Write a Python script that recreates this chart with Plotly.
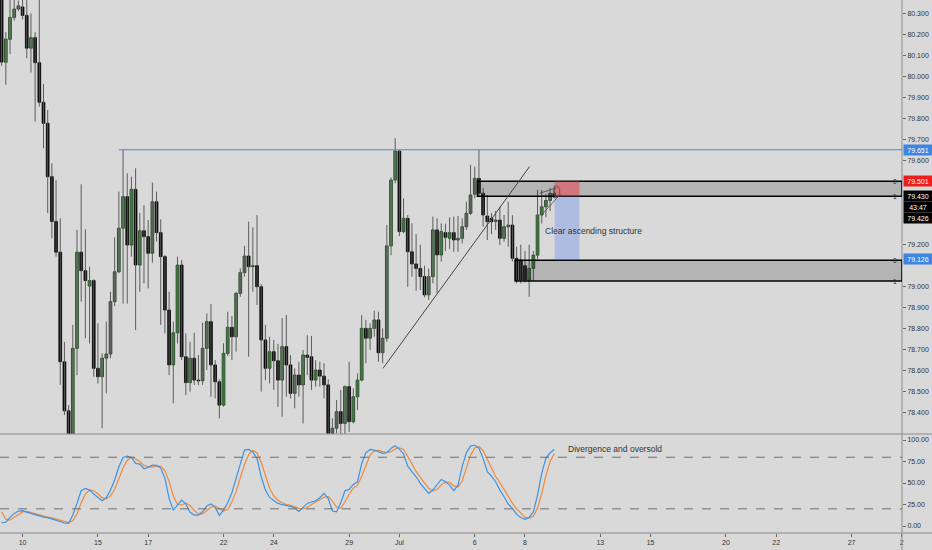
import plotly.graph_objects as go

# ---------------- data (4H candles, index 0 = 10 Jun 00:00) ----------------
idx = list(range(-5, 128))

opens = [80.42, 80.067, 80.176, 80.28, 80.32, 80.33, 80.29, 80.134, 80.184, 80.065,
         79.877, 79.777, 79.523, 79.31, 79.164, 78.643, 78.41, 78.27, 78.707, 79.164,
         79.076, 79.003, 79.029, 78.612, 78.572, 78.66, 78.68, 78.929, 79.071, 79.278,
         79.428, 79.198, 79.463, 79.103, 79.266, 79.238, 79.159, 79.404, 79.257, 79.143,
         78.889, 78.628, 78.781, 79.103, 78.667, 78.544, 78.66, 78.556, 78.553, 78.707,
         78.834, 78.628, 78.548, 78.437, 78.683, 78.807, 78.762, 78.968, 79.067, 79.146,
         79.095, 79.10, 79.0, 78.747, 78.612, 78.691, 78.648, 78.556, 78.715, 78.628,
         78.493, 78.58, 78.533, 78.675, 78.667, 78.556, 78.604, 78.575, 78.533, 78.303,
         78.327, 78.406, 78.35, 78.525, 78.358, 78.477, 78.556, 78.802, 78.755, 78.802,
         78.842, 78.686, 78.755, 79.194, 79.507, 79.645, 79.262, 79.325, 79.166, 79.108,
         79.087, 79.048, 78.961, 79.048, 79.27, 79.151, 79.257, 79.23, 79.257, 79.222,
         79.23, 79.285, 79.349, 79.44, 79.515, 79.444, 79.336, 79.325, 79.31, 79.317,
         79.23, 79.285, 79.293, 79.135, 79.127, 79.10, 79.032, 79.087, 79.15, 79.341,
         79.38, 79.41, 79.444]
highs = [80.46, 80.21, 80.40, 80.40, 80.36, 80.37, 80.40, 80.30, 80.21, 80.40,
         79.964, 79.84, 79.587, 79.507, 79.325, 78.738, 78.437, 78.818, 79.27, 79.487,
         79.273, 79.095, 79.035, 78.826, 78.683, 78.834, 78.976, 79.235, 79.452, 79.651,
         79.539, 79.523, 79.563, 79.35, 79.388, 79.317, 79.495, 79.452, 79.32, 79.151,
         78.976, 78.834, 79.143, 79.127, 78.778, 78.738, 78.781, 78.675, 78.829, 78.873,
         78.918, 78.651, 78.56, 78.731, 78.881, 78.861, 78.976, 79.087, 79.194, 79.309,
         79.282, 79.34, 79.013, 78.818, 78.762, 78.747, 78.728, 78.85, 78.865, 78.675,
         78.612, 78.643, 78.699, 78.77, 78.766, 78.651, 78.643, 78.636, 78.56, 78.374,
         78.461, 78.509, 78.53, 78.643, 78.517, 78.588, 78.865, 78.842, 78.826, 78.886,
         78.881, 78.802, 79.293, 79.52, 79.706, 79.65, 79.42, 79.341, 79.301, 79.25,
         79.20, 79.10, 79.087, 79.333, 79.325, 79.301, 79.30, 79.33, 79.333, 79.336,
         79.325, 79.404, 79.579, 79.571, 79.651, 79.47, 79.436, 79.35, 79.36, 79.38,
         79.341, 79.404, 79.34, 79.19, 79.20, 79.17, 79.20, 79.17, 79.46, 79.46,
         79.44, 79.47, 79.48]
lows = [80.05, 79.96, 80.106, 80.265, 80.31, 80.27, 80.086, 80.018, 79.785, 79.856,
        79.658, 79.35, 79.23, 79.143, 78.533, 78.39, 78.25, 78.24, 78.58, 78.929,
        78.755, 78.73, 78.572, 78.54, 78.327, 78.493, 78.66, 78.908, 79.064, 78.92,
        78.92, 79.143, 78.794, 78.976, 79.016, 78.992, 79.114, 79.214, 78.818, 78.778,
        78.58, 78.446, 78.73, 78.651, 78.485, 78.501, 78.533, 78.533, 78.533, 78.604,
        78.477, 78.469, 78.374, 78.43, 78.67, 78.651, 78.691, 78.952, 79.048, 78.667,
        78.976, 78.913, 78.501, 78.556, 78.54, 78.509, 78.429, 78.382, 78.477, 78.469,
        78.422, 78.477, 78.35, 78.58, 78.509, 78.525, 78.525, 78.469, 78.29, 78.28,
        78.303, 78.30, 78.30, 78.31, 78.35, 78.414, 78.55, 78.636, 78.699, 78.762,
        78.643, 78.636, 78.738, 79.15, 79.492, 79.24, 79.254, 79.0, 79.048, 78.98,
        78.984, 78.95, 78.937, 79.016, 78.969, 79.119, 79.17, 79.18, 79.166, 79.166,
        79.206, 79.27, 79.341, 79.42, 79.43, 79.285, 79.222, 79.25, 79.27, 79.198,
        79.214, 79.19, 79.12, 79.016, 79.016, 79.02, 78.952, 79.03, 79.13, 79.30,
        79.33, 79.36, 79.42]
closes = [80.068, 80.177, 80.28, 80.32, 80.335, 80.29, 80.134, 80.184, 80.065, 79.877,
          79.777, 79.523, 79.31, 79.164, 78.643, 78.41, 78.27, 78.707, 79.164, 79.076,
          79.029, 79.029, 78.612, 78.572, 78.66, 78.68, 78.929, 79.071, 79.278, 79.428,
          79.198, 79.463, 79.103, 79.266, 79.238, 79.159, 79.404, 79.257, 79.143, 78.889,
          78.628, 78.781, 79.103, 78.667, 78.544, 78.66, 78.556, 78.552, 78.707, 78.834,
          78.628, 78.548, 78.437, 78.683, 78.807, 78.762, 78.968, 79.067, 79.146, 79.095,
          79.10, 79.0, 78.747, 78.612, 78.691, 78.648, 78.556, 78.715, 78.628, 78.493,
          78.58, 78.533, 78.675, 78.664, 78.556, 78.604, 78.575, 78.533, 78.303, 78.327,
          78.406, 78.35, 78.525, 78.358, 78.477, 78.556, 78.802, 78.755, 78.802, 78.842,
          78.686, 78.755, 79.194, 79.507, 79.645, 79.262, 79.325, 79.166, 79.108, 79.087,
          79.048, 78.961, 79.048, 79.27, 79.151, 79.262, 79.235, 79.257, 79.222, 79.23,
          79.285, 79.349, 79.436, 79.515, 79.444, 79.341, 79.309, 79.309, 79.317, 79.23,
          79.285, 79.293, 79.135, 79.032, 79.032, 79.032, 79.087, 79.15, 79.341, 79.38,
          79.41, 79.444, 79.426]

stoch_k = [3.8, 4.6, 10.0, 14.7, 17.4, 17.8, 16.2, 14.7, 13.2, 11.6,
           10.4, 9.7, 8.1, 6.6, 5.0, 3.5, 3.1, 12.8, 26.3, 41.1,
           43.8, 41.8, 37.2, 32.9, 29.4, 32.9, 41.8, 53.5, 69.0, 79.8,
           81.4, 79.8, 72.8, 72.1, 66.6, 68.2, 70.9, 70.5, 67.4, 55.4,
           32.1, 18.6, 24.4, 30.2, 25.6, 15.9, 12.8, 12.8, 16.6, 23.2,
           25.6, 21.7, 12.4, 18.6, 27.1, 38.7, 55.4, 70.9, 88.3, 89.1,
           86.0, 78.7, 57.3, 41.8, 33.3, 29.8, 26.3, 24.8, 24.0, 22.8,
           20.9, 17.0, 21.7, 26.3, 27.9, 29.4, 32.9, 38.0, 32.1, 17.4,
           16.6, 27.1, 41.1, 42.6, 48.4, 51.5, 72.8, 85.2, 89.1, 88.3,
           86.4, 84.5, 85.2, 90.3, 93.4, 89.5, 83.7, 69.7, 63.2, 57.3,
           49.6, 43.8, 38.0, 41.8, 47.6, 54.2, 51.5, 47.6, 41.1, 47.6,
           69.0, 85.2, 93.0, 94.2, 90.3, 78.7, 63.2, 58.1, 51.5, 41.8,
           34.1, 25.6, 20.5, 13.5, 10.0, 7.7, 10.0, 16.6, 36.0, 61.2,
           78.7, 85.2, 89.1]
stoch_d = [16.6, 8, 7, 10, 14, 16.5, 17, 16, 14.5, 13,
           11.5, 10.5, 9.5, 8, 6.5, 5, 4, 6, 14, 27,
           37, 42, 41, 37.5, 33, 31.5, 35, 42.5, 55, 67.5,
           76.5, 80, 78, 75, 70.5, 69, 68.5, 70, 69.5, 64.5,
           52, 35, 25, 24.5, 26.5, 24, 18, 14, 14, 17.5,
           21.8, 23.5, 20, 17.5, 19.5, 28, 40, 55, 71.5, 83,
           88, 85, 74, 59, 44, 35, 30, 27, 25, 24,
           22.5, 20.5, 20, 21.5, 25, 28, 30, 33.5, 34.5, 29,
           22, 20.5, 28, 37, 44, 47.5, 57.5, 70, 82.5, 87.5,
           88, 86.5, 85.5, 86.5, 89.5, 91, 89, 81, 72, 63.5,
           56.5, 50, 43.8, 41, 42.5, 47.9, 51, 51, 46.7, 45.4,
           52.6, 67.3, 82.4, 90.8, 92.5, 87.7, 77.4, 66.7, 57.6, 50.5,
           42.5, 33.8, 26.7, 19.9, 14.7, 10.4, 9.2, 11.4, 20.9, 37.9,
           58.6, 75, 84.3]

date_tick_pos = [0, 18, 30, 48, 60, 78, 90, 108, 120, 138, 150, 168, 180, 198, 210]
date_tick_text = ['10', '15', '17', '22', '24', '29', 'Jul', '6', '8', '13', '15', '20', '22', '27', '2']
# visible price-scale ticks (79.1 - 79.5 are covered by the price labels)
price_ticks = [78.4, 78.5, 78.6, 78.7, 78.8, 78.9, 79.0, 79.2,
               79.6, 79.7, 79.8, 79.9, 80.0, 80.1, 80.2, 80.3]
stoch_ticks = [0, 25, 50, 75, 100]
stoch_levels = [80, 20]

resistance = 79.651
upper_zone = [79.430, 79.501]
lower_zone = [79.027, 79.126]
entry, stop, target = 79.430, 79.501, 79.126
last_price = 79.426
countdown = '43:47'

# ---------------- styling ----------------
BG = '#d9d9d9'
FONT = 'Liberation Sans'
XMIN, XMAX = -5.39, 210.05
SPLIT = 0.1857

fig = go.Figure()

# wicks
wx, wy = [], []
for i, h, l in zip(idx, highs, lows):
    wx += [i, i, None]
    wy += [l, h, None]
fig.add_trace(go.Scatter(x=wx, y=wy, mode='lines', line=dict(color='#5c5c5c', width=1),
                         hoverinfo='skip', xaxis='x', yaxis='y'))

# bodies
base = [min(o, c) for o, c in zip(opens, closes)]
height = [max(abs(c - o), 0.004) for o, c in zip(opens, closes)]
fill = ['#4f944f' if c >= o else '#000000' for o, c in zip(opens, closes)]
edge = ['#1c361c' if c >= o else '#000000' for o, c in zip(opens, closes)]
fig.add_trace(go.Bar(x=idx, y=height, base=base, width=0.66,
                     marker=dict(color=fill, line=dict(color=edge, width=0.8)),
                     hoverinfo='skip', xaxis='x', yaxis='y'))

# stochastic
fig.add_trace(go.Scatter(x=idx, y=stoch_d, mode='lines', line=dict(color='#f08a3a', width=1.2),
                         xaxis='x2', yaxis='y2', hoverinfo='skip'))
fig.add_trace(go.Scatter(x=idx, y=stoch_k, mode='lines', line=dict(color='#3b93e6', width=1.2),
                         xaxis='x2', yaxis='y2', hoverinfo='skip'))

shapes = []
# pane frame lines
shapes.append(dict(type='line', xref='paper', yref='paper', x0=1, x1=1, y0=-0.032, y1=1,
                   line=dict(color='#8c8c8c', width=1)))
shapes.append(dict(type='line', xref='paper', yref='paper', x0=0, x1=1.034, y0=SPLIT, y1=SPLIT,
                   line=dict(color='#8c8c8c', width=1)))
shapes.append(dict(type='line', xref='paper', yref='paper', x0=0, x1=1.034, y0=0, y1=0,
                   line=dict(color='#8c8c8c', width=1)))
# stochastic levels
for lv in stoch_levels:
    shapes.append(dict(type='line', xref='x2', yref='y2', x0=XMIN, x1=XMAX, y0=lv, y1=lv,
                       line=dict(color='#6e6e6e', width=1, dash='dash')))
# resistance line
shapes.append(dict(type='line', xref='x', yref='y', x0=23, x1=XMAX, y0=resistance, y1=resistance,
                   line=dict(color='#4f86d6', width=1)))
# zones
shapes.append(dict(type='rect', xref='x', yref='y', x0=108.65, x1=XMAX, y0=upper_zone[0], y1=upper_zone[1],
                   fillcolor='rgba(0,0,0,0.17)', line=dict(color='#000000', width=1.5)))
shapes.append(dict(type='rect', xref='x', yref='y', x0=117.65, x1=XMAX, y0=lower_zone[0], y1=lower_zone[1],
                   fillcolor='rgba(0,0,0,0.17)', line=dict(color='#000000', width=1.5)))
# short position tool
shapes.append(dict(type='rect', xref='x', yref='y', x0=127.1, x1=133.0, y0=entry, y1=stop,
                   fillcolor='rgba(242,54,69,0.5)', line=dict(width=0)))
shapes.append(dict(type='rect', xref='x', yref='y', x0=127.1, x1=133.0, y0=target, y1=entry,
                   fillcolor='rgba(41,98,255,0.24)', line=dict(width=0)))
shapes.append(dict(type='line', xref='x', yref='y', x0=127.1, x1=133.0, y0=entry, y1=entry,
                   line=dict(color='#222222', width=1)))
# trend line
shapes.append(dict(type='line', xref='x', yref='y', x0=86.1, x1=121.1, y0=78.612, y1=79.571,
                   line=dict(color='#444444', width=1)))
# small ascending channel
shapes.append(dict(type='line', xref='x', yref='y', x0=123.5, x1=127.5, y0=79.444, y1=79.47,
                   line=dict(color='#444444', width=0.8)))
shapes.append(dict(type='line', xref='x', yref='y', x0=123.9, x1=128.5, y0=79.34, y1=79.44,
                   line=dict(color='#444444', width=0.8)))
shapes.append(dict(type='circle', xref='x', yref='y', x0=126.8, x1=128.3, y0=79.425, y1=79.48,
                   line=dict(color='#555555', width=0.8)))

annotations = []
annotations.append(dict(text='Clear ascending structure', x=124.4, y=79.265, xref='x', yref='y',
                        xanchor='left', yanchor='middle', showarrow=False,
                        font=dict(family=FONT, size=8.5, color='#333333')))
annotations.append(dict(text='Divergence and oversold', x=129.7, y=89.5, xref='x2', yref='y2',
                        xanchor='left', yanchor='middle', showarrow=False,
                        font=dict(family=FONT, size=8.5, color='#333333')))
# zone level markers
for yv, t in [(upper_zone[1], '0'), (upper_zone[0], '1'), (lower_zone[1], '0'), (lower_zone[0], '1')]:
    annotations.append(dict(text=t, x=0.997, y=yv, xref='paper', yref='y', xanchor='right',
                            yanchor='middle', showarrow=False,
                            font=dict(family=FONT, size=6.5, color='#222222')))
# price scale labels
labels = [(resistance, f'{resistance:.3f}', '#3c86e0'),
          (79.503, f'{stop:.3f}', '#ef1c1c'),
          (79.433, f'{entry:.3f}', '#000000'),
          (79.379, countdown, '#000000'),
          (79.327, f'{last_price:.3f}', '#000000'),
          (79.133, f'{target:.3f}', '#3c86e0')]
for yv, t, bg in labels:
    annotations.append(dict(text=t, x=1, y=yv, xref='paper', yref='y', xanchor='left',
                            yanchor='middle', showarrow=False, width=28, height=10,
                            bgcolor=bg, borderpad=0, xshift=1,
                            font=dict(family=FONT, size=7, color='#ffffff')))

axis_font = dict(family=FONT, size=7, color='#333333')
fig.update_layout(
    width=932, height=550,
    margin=dict(l=0, r=30, t=0, b=17),
    paper_bgcolor=BG, plot_bgcolor=BG,
    showlegend=False, hovermode=False, barmode='overlay',
    shapes=shapes, annotations=annotations,
    xaxis=dict(domain=[0, 1], range=[XMIN, XMAX], anchor='y', showticklabels=False,
               showgrid=False, zeroline=False, showline=False, ticks=''),
    xaxis2=dict(domain=[0, 1], range=[XMIN, XMAX], anchor='y2', matches='x',
                tickvals=date_tick_pos, ticktext=date_tick_text, ticks='outside', ticklen=3,
                tickcolor='#666666', tickfont=axis_font, showgrid=False, zeroline=False,
                showline=False),
    yaxis=dict(domain=[SPLIT, 1], range=[78.2996, 80.363], side='right', anchor='x',
               tickvals=price_ticks, tickformat='.3f', ticks='outside', ticklen=3,
               tickcolor='#666666', tickfont=axis_font, showgrid=False, zeroline=False,
               showline=False),
    yaxis2=dict(domain=[0, SPLIT], range=[-8.1, 107], side='right', anchor='x2',
                tickvals=stoch_ticks, tickformat='.2f', ticks='outside', ticklen=3,
                tickcolor='#666666', tickfont=axis_font, showgrid=False, zeroline=False,
                showline=False),
)

fig.write_html('out.html', config={'displayModeBar': False},
               post_script="document.body.style.margin='0';document.body.style.overflow='hidden';")
